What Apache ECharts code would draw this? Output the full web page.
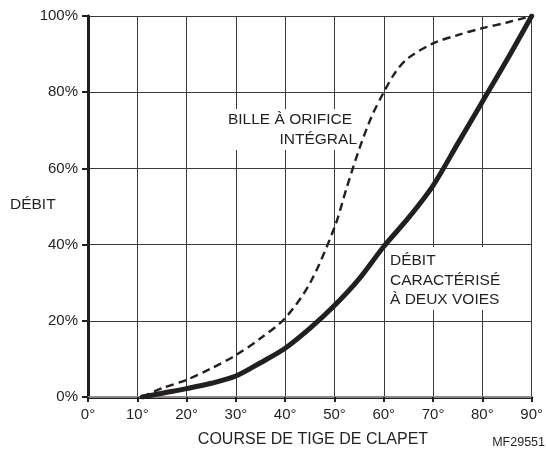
<!DOCTYPE html>
<html>
<head>
<meta charset="utf-8">
<script src="https://cdn.jsdelivr.net/npm/echarts@6/dist/echarts.min.js"></script>
<style>html,body{margin:0;padding:0;background:#fff;}#c{width:546px;height:449px;}</style>
</head>
<body>
<div id="c"></div>
<script>
// Course de tige (degrés) and débit (%)
const courseCaracterise = [11, 15, 20, 25, 30, 35, 40, 45, 50, 55, 60, 65, 70, 75, 80, 85, 90];
const debitCaracterise  = [0, 1, 2.2, 3.6, 5.5, 9, 12.8, 18, 24, 31, 39.5, 47, 55.5, 66.5, 77.5, 88.5, 100];
const courseBille = [11, 15, 20, 25, 30, 35, 40, 45, 50, 52.5, 55, 57.5, 60, 62.5, 65, 70, 75, 80, 85, 90];
const debitBille  = [0, 2.3, 4.5, 7.5, 11, 15.4, 20.7, 29.8, 44.5, 55, 65, 73.5, 80, 85.5, 89, 92.8, 95, 96.8, 98.3, 100];
const xTicks = [0, 10, 20, 30, 40, 50, 60, 70, 80, 90];
const yTicks = [0, 20, 40, 60, 80, 100];

const ink = '#231f20';
const font = 'Liberation Sans, Arial, Helvetica, sans-serif';
const chart = echarts.init(document.getElementById('c'), null, {renderer: 'canvas'});

const pair = (xs, ys) => xs.map((x, i) => [x, ys[i]]);

chart.setOption({
  animation: false,
  backgroundColor: '#fff',
  grid: {left: 88, top: 16, width: 444, height: 381, containLabel: false},
  xAxis: [{
    type: 'value', min: xTicks[0], max: xTicks[xTicks.length - 1], interval: 10,
    axisLine: {show: true, lineStyle: {color: ink, width: 3}},
    axisTick: {show: true, length: 5, lineStyle: {color: ink, width: 2}},
    axisLabel: {formatter: '{value}°', color: ink, fontSize: 15, fontFamily: font, margin: 10},
    splitLine: {show: true, lineStyle: {color: '#3a3a3a', width: 1}}
  }, {
    type: 'value', position: 'top', min: 0, max: 90,
    axisLine: {show: true, lineStyle: {color: '#8a8a8a', width: 2}},
    axisTick: {show: false}, axisLabel: {show: false}, splitLine: {show: false}
  }],
  yAxis: [{
    type: 'value', min: yTicks[0], max: yTicks[yTicks.length - 1], interval: 20,
    axisLine: {show: true, onZero: false, lineStyle: {color: ink, width: 3}},
    axisTick: {show: true, length: 6, lineStyle: {color: ink, width: 2}},
    axisLabel: {formatter: '{value}%', color: ink, fontSize: 15, fontFamily: font, margin: 10},
    splitLine: {show: true, lineStyle: {color: '#3a3a3a', width: 1}}
  }, {
    type: 'value', position: 'right', min: 0, max: 100,
    axisLine: {show: true, lineStyle: {color: ink, width: 2.5}},
    axisTick: {show: false}, axisLabel: {show: false}, splitLine: {show: false}
  }],
  series: [{
    name: 'Bille à orifice intégral', type: 'line',
    data: pair(courseBille, debitBille),
    smooth: 0.3, showSymbol: false, z: 5,
    lineStyle: {color: ink, width: 2.4, type: [8, 5]}
  }, {
    name: 'Débit caractérisé à deux voies', type: 'line',
    data: pair(courseCaracterise, debitCaracterise),
    smooth: 0.3, showSymbol: false, z: 5,
    lineStyle: {color: ink, width: 5, cap: 'round'}
  }],
  graphic: [
    {type: 'rect', z: 1, shape: {x: 221, y: 109, width: 139, height: 41}, style: {fill: '#fff'}},
    {type: 'text', z: 10, x: 352, y: 120, style: {text: 'BILLE À ORIFICE', align: 'right', verticalAlign: 'middle', font: '15.5px ' + font, fill: ink}},
    {type: 'text', z: 10, x: 357, y: 140, style: {text: 'INTÉGRAL', align: 'right', verticalAlign: 'middle', font: '15.5px ' + font, fill: ink}},
    {type: 'rect', z: 1, shape: {x: 387, y: 247, width: 120, height: 63}, style: {fill: '#fff'}},
    {type: 'text', z: 10, x: 390, y: 261, style: {text: 'DÉBIT', align: 'left', verticalAlign: 'middle', font: '15.5px ' + font, fill: ink}},
    {type: 'text', z: 10, x: 390, y: 280.5, style: {text: 'CARACTÉRISÉ', align: 'left', verticalAlign: 'middle', font: '15.5px ' + font, fill: ink}},
    {type: 'text', z: 10, x: 390, y: 300, style: {text: 'À DEUX VOIES', align: 'left', verticalAlign: 'middle', font: '15.5px ' + font, fill: ink}},
    {type: 'text', z: 10, x: 10, y: 205, style: {text: 'DÉBIT', align: 'left', verticalAlign: 'middle', font: '15.5px ' + font, fill: ink}},
    {type: 'text', z: 10, x: 313, y: 440, style: {text: 'COURSE DE TIGE DE CLAPET', align: 'center', verticalAlign: 'middle', font: '16px ' + font, fill: ink}},
    {type: 'text', z: 10, x: 545, y: 443, style: {text: 'MF29551', align: 'right', verticalAlign: 'middle', font: '12.5px ' + font, fill: ink}}
  ]
});
</script>
</body>
</html>
